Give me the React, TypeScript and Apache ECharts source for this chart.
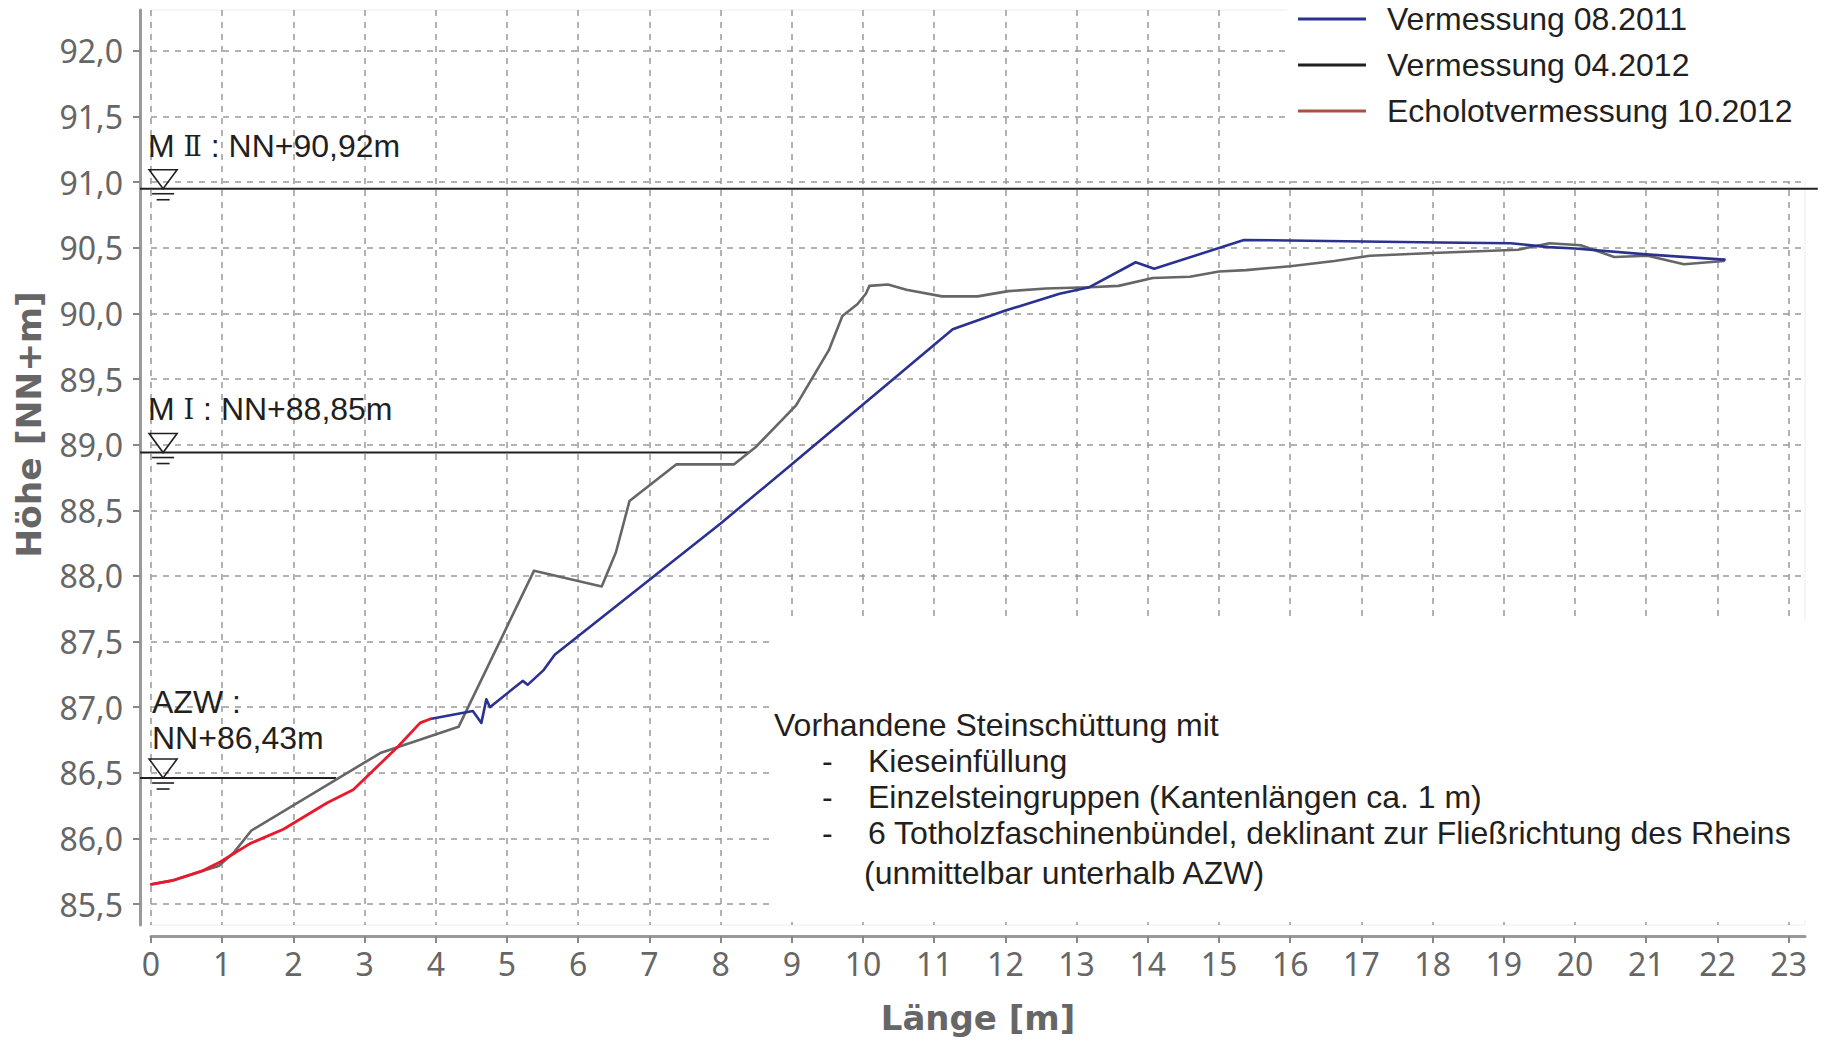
import React, { useEffect, useRef } from "react";
import * as echarts from "echarts";

const xTicks = Array.from({ length: 24 }, (_, i) => i);
const yTickLabels = ["85,5","86,0","86,5","87,0","87,5","88,0","88,5","89,0","89,5","90,0","90,5","91,0","91,5","92,0"];
const yTicks = yTickLabels.map((s) => parseFloat(s.replace(",", ".")));

const survey2011: number[][] = [
  [3.92,86.91],[4.52,86.97],[4.64,86.88],[4.71,87.06],[4.76,87.0],[5.22,87.2],[5.29,87.17],[5.51,87.28],[5.67,87.40],
  [8.0,88.40],[9.0,88.85],[11.26,89.88],[11.99,90.02],[12.76,90.15],[13.18,90.20],[13.83,90.39],[14.09,90.34],
  [15.35,90.56],[18.1,90.54],[19.1,90.535],[19.63,90.505],[20.0,90.495],[21.0,90.45],[22.1,90.41],
];
const survey2012: number[][] = [
  [0.0,85.65],[0.31,85.68],[0.71,85.75],[0.95,85.79],[1.16,85.89],[1.41,86.06],[3.22,86.65],[4.32,86.85],[5.38,88.04],
  [6.33,87.92],[6.53,88.18],[6.72,88.57],[7.38,88.85],[8.19,88.85],[8.49,88.98],[9.06,89.30],[9.52,89.72],[9.71,89.98],
  [9.92,90.07],[10.04,90.15],[10.09,90.21],[10.35,90.22],[10.61,90.18],[11.11,90.13],[11.61,90.13],[12.04,90.17],
  [12.57,90.19],[13.18,90.2],[13.59,90.21],[14.07,90.27],[14.59,90.28],[15.0,90.32],[15.38,90.33],[16.0,90.36],
  [16.62,90.40],[17.12,90.44],[18.0,90.46],[19.2,90.485],[19.64,90.535],[20.08,90.52],[20.55,90.43],[21.02,90.44],
  [21.53,90.375],[22.09,90.40],
];
const echo2012: number[][] = [
  [0.01,85.65],[0.31,85.68],[0.71,85.75],[0.97,85.82],[1.39,85.96],[1.86,86.07],[2.47,86.27],[2.84,86.37],[3.47,86.70],
  [3.78,86.88],[3.92,86.91],
];
// water levels: start length, end length, height
const levelLines: number[][] = [[-0.154,23.41,90.95],[-0.154,8.39,88.94],[-0.154,2.6,86.46]];
const levelSymbols: number[][] = [[0.17,90.95],[0.17,88.94],[0.17,86.46]];

const legendNames = ["Vermessung 08.2011", "Vermessung 04.2012", "Echolotvermessung 10.2012"];
const levelLabels = ["{n|M }{r|Ⅱ}{n| : NN+90,92m}", "{n|M }{r|Ⅰ}{n| : NN+88,85m}", "AZW :", "NN+86,43m"];
const noteLines = [
  "Vorhandene Steinschüttung mit",
  "-",
  "Kieseinfüllung",
  "-",
  "Einzelsteingruppen (Kantenlängen ca. 1 m)",
  "-",
  "6 Totholzfaschinenbündel, deklinant zur Fließrichtung des Rheins",
  "(unmittelbar unterhalb AZW)",
];

const SANS = "'Liberation Sans', sans-serif";
const TEXT = "#231f20";
const GREY = "#666666";

function label(text: string, x: number, y: number, size = 32) {
  return {
    type: "text", x, y, z: 6,
    style: {
      text, fontFamily: SANS, fontSize: size, fill: TEXT, verticalAlign: "middle",
      rich: {
        n: { fontFamily: SANS, fontSize: size, fill: TEXT },
        r: { fontFamily: "'DejaVu Serif'", fontSize: 27, fill: TEXT },
      },
    },
  };
}

function lineSeries(name: string, data: number[][], color: string, width: number, z = 2) {
  return {
    type: "line", name, data, z, clip: false, symbol: "none", showSymbol: false, smooth: false,
    lineStyle: { color, width, cap: "round", join: "round" }, itemStyle: { color },
    emphasis: { disabled: true },
  };
}

export default function App() {
  const ref = useRef<HTMLDivElement>(null);
  useEffect(() => {
    document.body.style.margin = "0";
    document.body.style.overflow = "hidden";
    const chart = echarts.init(ref.current!, undefined, { renderer: "svg" });
    chart.setOption({
      animation: false,
      backgroundColor: "#fff",
      grid: {
        left: 151, top: 10, width: 1654, height: 915, show: true, borderColor: "#ececec", borderWidth: 1,
        backgroundColor: "transparent", outerBoundsMode: "none", containLabel: false,
      },
      xAxis: {
        type: "value", min: 0, max: 23.23, offset: 11,
        name: "Länge [m]", nameLocation: "middle", nameGap: 65,
        nameTextStyle: { fontFamily: "'DejaVu Sans'", fontWeight: "bold", fontSize: 34, color: GREY },
        axisLine: { show: true, onZero: false, lineStyle: { color: "#999", width: 3 } },
        axisTick: { show: true, length: 7, customValues: xTicks, lineStyle: { color: "#888", width: 2 } },
        axisLabel: { customValues: xTicks, margin: 11, fontFamily: "'Noto Sans'", fontSize: 32, color: GREY, hideOverlap: false },
        splitLine: { show: true, lineStyle: { color: "#999", width: 1.5, type: [6, 6] } },
      },
      yAxis: {
        type: "value", min: 85.34, max: 92.312, offset: 11,
        name: "Höhe [NN+m]", nameLocation: "middle", nameGap: 94, nameRotate: 90,
        nameTextStyle: { fontFamily: "'DejaVu Sans'", fontWeight: "bold", fontSize: 34.5, color: GREY, padding: [0, 0, 0, 86] },
        axisLine: { show: true, onZero: false, lineStyle: { color: "#999", width: 3 } },
        axisTick: { show: true, length: 7, customValues: yTicks, lineStyle: { color: "#888", width: 2 } },
        axisLabel: {
          customValues: yTicks, margin: 17, fontFamily: "'Noto Sans'", fontSize: 32, color: GREY,
          formatter: (v: number) => yTickLabels[yTicks.indexOf(v)] ?? "",
        },
        splitLine: { show: true, lineStyle: { color: "#999", width: 1.5, type: [6, 6] } },
      },
      legend: {
        orient: "vertical", left: 1293, top: -2, itemWidth: 68, itemHeight: 3, itemGap: 14, icon: "rect",
        selectedMode: false,
        textStyle: { fontFamily: SANS, fontSize: 32, color: TEXT, padding: [0, 0, 0, 16] },
        data: [
          { name: legendNames[0], icon: "rect", itemStyle: { color: "#2b3190" } },
          { name: legendNames[1], icon: "rect", itemStyle: { color: "#231f20" } },
          { name: legendNames[2], icon: "rect", itemStyle: { color: "#a9533f" } },
        ],
      },
      graphic: [
        { type: "rect", z: 1, shape: { x: 1287, y: 0, width: 541, height: 181 }, style: { fill: "#fff" } },
        { type: "rect", z: 1, shape: { x: 775, y: 620, width: 1053, height: 300 }, style: { fill: "#fff" } },
        label(levelLabels[0], 148, 146),
        label(levelLabels[1], 148, 409),
        label(levelLabels[2], 152, 702),
        label(levelLabels[3], 152, 738),
        label(noteLines[0], 774, 725),
        label(noteLines[1], 822, 761),
        label(noteLines[2], 868, 761),
        label(noteLines[3], 822, 797),
        label(noteLines[4], 868, 797),
        label(noteLines[5], 822, 833),
        label(noteLines[6], 868, 833),
        label(noteLines[7], 864, 873),
      ],
      series: [
        {
          type: "custom", name: "Wasserstandslinien", data: levelLines, z: 2, clip: false,
          encode: { x: [0, 1], y: 2 },
          renderItem: (_p: any, api: any) => {
            const y = api.value(2);
            const [x0, py] = api.coord([0, y]);
            const [x10] = api.coord([10, y]);
            const perUnit = (x10 - x0) / 10;
            return {
              type: "line",
              shape: { x1: x0 + api.value(0) * perUnit, y1: py, x2: x0 + api.value(1) * perUnit, y2: py },
              style: { stroke: "#231f20", lineWidth: 2, fill: "none" },
            };
          },
        },
        lineSeries(legendNames[1], survey2012, "#666666", 2.6, 3),
        lineSeries(legendNames[0], survey2011, "#2b3190", 2.6, 4),
        lineSeries(legendNames[2], echo2012, "#e8192c", 2.8, 5),
        {
          type: "custom", name: "Wasserstand", data: levelSymbols, z: 5, clip: false,
          encode: { x: 0, y: 1 },
          renderItem: (_p: any, api: any) => {
            const [x, y] = api.coord([api.value(0), api.value(1)]);
            const st = { stroke: "#231f20", lineWidth: 1.6, fill: "none" };
            return {
              type: "group",
              children: [
                { type: "polygon", shape: { points: [[x - 14, y - 19], [x + 14, y - 19], [x, y]] }, style: st },
                { type: "line", shape: { x1: x - 11, y1: y + 5, x2: x + 11, y2: y + 5 }, style: st },
                { type: "line", shape: { x1: x - 6.5, y1: y + 11, x2: x + 6.5, y2: y + 11 }, style: st },
              ],
            };
          },
        },
      ],
    });
    return () => chart.dispose();
  }, []);
  return <div ref={ref} style={{ position: "absolute", left: 0, top: 0, width: 1828, height: 1041 }} />;
}
